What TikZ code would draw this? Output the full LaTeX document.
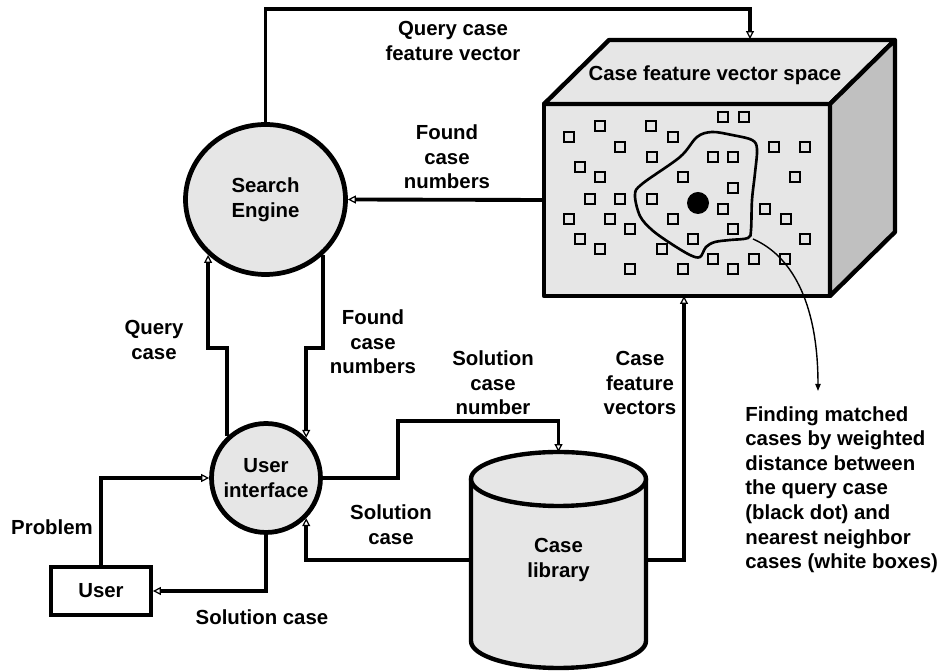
\documentclass[tikz,border=0pt]{standalone}
\usepackage{fontspec}
\setmainfont{Liberation Sans}
\usetikzlibrary{arrows.meta,calc,shapes.geometric}
\definecolor{fillg}{HTML}{E6E6E6}
\definecolor{sideg}{HTML}{C0C0C0}
\begin{document}
\begin{tikzpicture}[x=0.02cm,y=-0.02cm,
  every node/.style={font=\fontsize{11.6}{14}\selectfont\bfseries},
  lbl/.style={align=center, inner sep=0pt},
  conn/.style={line width=2.2pt, -{Triangle[open,length=4.5pt,width=4.5pt,line width=0.7pt]}},
  thickb/.style={line width=2.5pt, line join=round},
  thin pointer/.style={line width=0.8pt, -{Triangle[length=4pt,width=3pt]}}]
\useasboundingbox (0,0) rectangle (948,671);

% ---- main nodes
\node[ellipse, draw, line width=2.7pt, fill=fillg, minimum width=3.2cm, minimum height=3.0cm, align=center, inner sep=0pt] (se) at (265.5,199.5) {Search\\Engine};
\node[circle, draw, line width=2.7pt, fill=fillg, minimum size=2.18cm, align=center, inner sep=0pt] (ui) at (266,478) {User\\interface};
\node[rectangle, draw, line width=2.2pt, minimum width=2.0cm, minimum height=0.97cm] (user) at (101,591) {User};

% ---- vector space box
\node[draw, thickb, fill=fillg, minimum width=5.72cm, minimum height=3.84cm, outer sep=0pt] (vs) at (687,200) {};
\draw[thickb, fill=fillg] (vs.north west) -- ++(65,-64) -- ($(vs.north east)+(65,-64)$) -- (vs.north east) -- cycle;
\draw[thickb, fill=sideg] (vs.north east) -- ++(65,-64) -- ($(vs.south east)+(65,-64)$) -- (vs.south east) -- cycle;
\node[lbl] (vstitle) at (715,75) {Case feature vector space};

% small boxes
\foreach \x/\y in {723/117,744/117,600/126,651/126,569/137,673/137,620/147,774/147,805/147,
  652/157,713/157,733/157,580/167,600/177,683/177,795/177,733/188,590/199,620/199,652/199,
  723/209,765/209,569/219,610/219,673/219,786/219,630/229,733/229,580/239,693/239,805/239,
  600/249,662/249,713/259,754/259,785/259,630/269,683/269,733/269}
  \draw[line width=0.9pt] (\x-5,\y-5) rectangle (\x+5,\y+5);
% neighbourhood
\draw[line width=1.5pt] plot[smooth cycle, tension=0.55] coordinates {(635,195) (642,184) (680,157) (697,137) (712,132) (732,135) (752,140) (757,149) (755,173) (752,200) (751,230) (748,238) (730,240) (715,242) (706,247) (700,257) (690,255) (670,243) (652,230) (640,216)};
\fill (698,203) circle[radius=11];
\coordinate (blobpt) at (753,239);
\coordinate (ptr) at (818,391);
\draw[thin pointer] (blobpt) .. controls (790,255) and (818,300) .. (ptr);
\node[align=left, inner sep=0pt, anchor=north west] (note) at (745,406) {Finding matched\\cases by weighted\\distance between\\the query case\\(black dot) and\\nearest neighbor\\cases (white boxes)};

% ---- cylinder
\draw[thickb, fill=fillg] (471,479) -- (471,641) arc[start angle=180, end angle=0, x radius=87.5, y radius=27] -- (646,479) -- cycle;
\draw[thickb, fill=fillg] (558.5,479) ellipse [x radius=87.5, y radius=27];
\node[minimum width=3.5cm, minimum height=4.32cm, outer sep=0pt, inner sep=0pt, align=center] (lib) at (558.5,560) {Case\\library};

% ---- helper coordinates
\coordinate (jq) at (0,348);
\coordinate (qcorner) at (750,9);
\coordinate (qv) at (750,39);
\coordinate (sn) at (398,421);

% ---- connectors
\draw[conn] (se.north) |- (qcorner) -- (qv);
\draw[conn] (vs.west) -- (se.east);
\draw[conn] (ui.133) |- (se.224 |- jq) -- (se.224);
\draw[conn] (se.316) |- (ui.45 |- jq) -- (ui.45);
\draw[conn] (user.north) |- (ui.west);
\draw[conn] (ui.south) |- (user.east);
\draw[conn] (lib.west) -| (ui.315);
\draw[conn] (ui.east) -| (sn) -| (lib.north);
\draw[conn] (lib.east) -| ($(vs.south)+(-3,0)$);

% ---- labels
\node[lbl] (l1) at (453,41) {Query case\\feature vector};
\node[lbl] (l2) at (447,157) {Found\\case\\numbers};
\node[lbl] (l3) at (154,340) {Query\\case};
\node[lbl] (l4) at (373,342) {Found\\case\\numbers};
\node[lbl] (l5) at (493,383) {Solution\\case\\number};
\node[lbl] (l6) at (640,383) {Case\\feature\\vectors};
\node[lbl] (l7) at (52,527) {Problem};
\node[lbl] (l8) at (391,525) {Solution\\case};
\node[lbl] (l9) at (262,617) {Solution case};
\end{tikzpicture}
\end{document}
